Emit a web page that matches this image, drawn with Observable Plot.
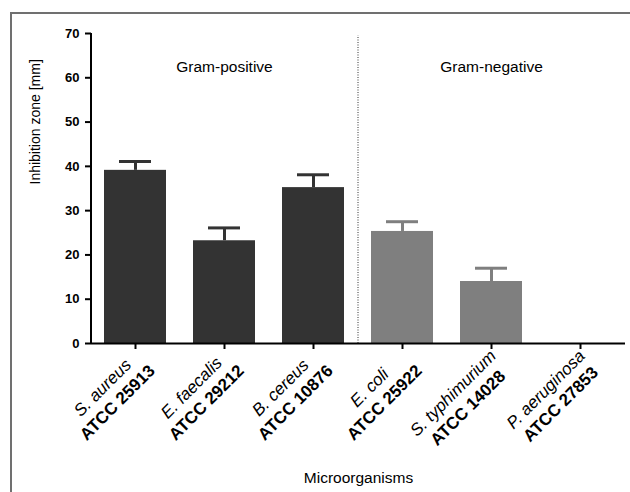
<!DOCTYPE html>
<html><head><meta charset="utf-8">
<script src="https://cdn.jsdelivr.net/npm/d3@7"></script>
<script src="https://cdn.jsdelivr.net/npm/@observablehq/plot@0.6"></script>
<style>
body{margin:0;background:#fff;overflow:hidden;font-family:"Liberation Sans",Arial,sans-serif}
#wrap{position:relative;width:630px;height:492px;overflow:hidden;background:#fff}
#border{position:absolute;left:10px;top:12px;width:640px;height:500px;border:2px solid #707070;pointer-events:none}
</style></head><body><div id="wrap"><div id="chart"></div><div id="border"></div></div>
<script>
const species = ["S. aureus","E. faecalis","B. cereus","E. coli","S. typhimurium","P. aeruginosa"];
const strains = ["ATCC 25913","ATCC 29212","ATCC 10876","ATCC 25922","ATCC 14028","ATCC 27853"];
const groups  = ["Gram-positive","Gram-positive","Gram-positive","Gram-negative","Gram-negative","Gram-negative"];
const means   = [39.1, 23.2, 35.2, 25.3, 14.0, 0];
const errors  = [2.0, 2.9, 2.9, 2.2, 3.0, 0];
const groupNames = ["Gram-positive","Gram-negative"];
const groupTitleUnder = [1, 4];
const yTicks = [0,10,20,30,40,50,60,70];
const yDomain = [0,70];
const groupColors = ["#333333","#7f7f7f"];

const rows = species.map((s,i)=>({key: s+" | "+strains[i], species:s, strain:strains[i], group:groups[i], mean:means[i], err:errors[i]}));
const keys = rows.map(d=>d.key);
const withErr = rows.filter(d=>d.err>0);

const W = 630, H = 492, ML = 91, MR = 5, MT = 33, MB = 149;
const step = (W-ML-MR)/keys.length;

const ctx = document.createElement("canvas").getContext("2d");
function tw(s, font){ctx.font = font; return ctx.measureText(s).width;}
const FS = 17, LH = 21;
const fontI = `italic ${FS}px "Liberation Sans"`, fontB = `bold ${FS}px "Liberation Sans"`;
const r2 = Math.SQRT1_2;
const blockTop = [-3, 5]; // top-right of the rotated label block, relative to the tick foot
const labelMarks = [];
rows.forEach(d=>{
  const w1 = tw(d.species, fontI), w2 = tw(d.strain, fontB), mw = Math.max(w1,w2);
  const c1 = [blockTop[0] - mw/2*r2, blockTop[1] + mw/2*r2];
  const c2 = [c1[0] + LH*r2, c1[1] + LH*r2];
  labelMarks.push(Plot.text([d], {x:"key", y:()=>0, text:"species", rotate:-45, textAnchor:"middle", lineAnchor:"top", dx:c1[0], dy:c1[1], fontStyle:"italic", fontSize:FS}));
  labelMarks.push(Plot.text([d], {x:"key", y:()=>0, text:"strain", rotate:-45, textAnchor:"middle", lineAnchor:"top", dx:c2[0], dy:c2[1], fontWeight:"bold", fontSize:FS}));
});

const chart = Plot.plot({
  width: W, height: H,
  marginLeft: ML, marginRight: MR, marginTop: MT, marginBottom: MB,
  style: {fontFamily: '"Liberation Sans", Arial, sans-serif', background: "transparent"},
  x: {domain: keys, paddingInner: 0.3, paddingOuter: 0.15},
  y: {domain: yDomain},
  color: {domain: groupNames, range: groupColors},
  marks: [
    Plot.barY(rows, {x:"key", y:"mean", fill:"group"}),
    Plot.ruleX(withErr, {x:"key", y1:"mean", y2:d=>d.mean+d.err, stroke:"group", strokeWidth:3}),
    Plot.tickY(withErr, {x:"key", y:d=>d.mean+d.err, stroke:"group", strokeWidth:3, insetLeft:15, insetRight:15}),
    Plot.ruleX([keys[3]], {x:d=>d, y1:()=>0, y2:()=>69.5, dx:-step/2, stroke:"#333", strokeWidth:1, strokeDasharray:"1,1.5"}),
    Plot.ruleY([0], {stroke:"black", strokeWidth:2}),
    Plot.ruleX([keys[0]], {x:d=>d, y1:()=>0, y2:()=>70, dx:-step/2, stroke:"black", strokeWidth:2}),
    Plot.axisY({ticks: yTicks, tickSize:6, tickPadding:6, fontSize:13, fontWeight:"bold", strokeWidth:2, label:null}),
    Plot.axisX({tickSize:6, tickFormat:()=>"", strokeWidth:2, label:null}),
    Plot.text(groupNames, {x:(d,i)=>keys[groupTitleUnder[i]], y:()=>62.5, fontSize:15.5}),
    Plot.text(["Inhibition zone [mm]"], {frameAnchor:"left", rotate:-90, dx:-56, dy:-4, fontSize:14}),
    Plot.text(["Microorganisms"], {frameAnchor:"bottom", dx:0, dy:139.5, fontSize:15.5}),
    ...labelMarks
  ]
});
document.getElementById("chart").appendChild(chart);
</script></body></html>
